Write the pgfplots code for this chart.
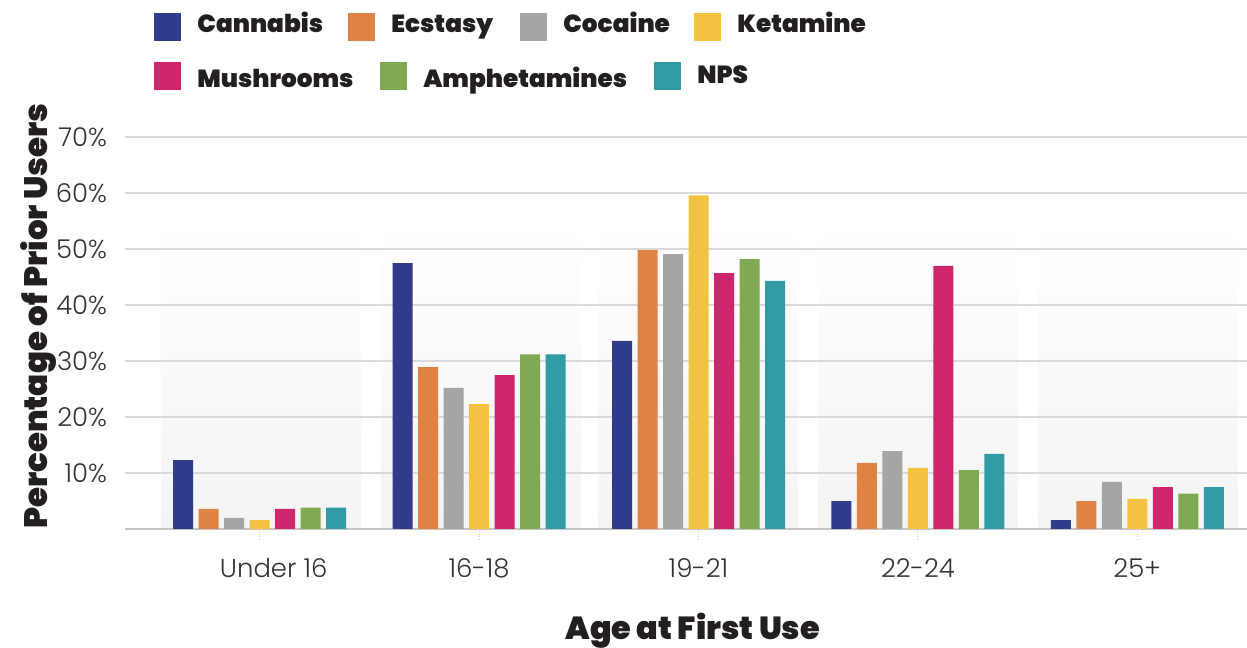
\documentclass[border=0pt]{standalone}
\usepackage{fontspec}
\setmainfont{Poppins}
\newfontfamily\lightfont{Poppins Light}
\newfontfamily\blackfont{Poppins Black}
\usepackage{pgfplots}
\pgfplotsset{compat=1.18}
\definecolor{cCannabis}{HTML}{2F3C8C}
\definecolor{cEcstasy}{HTML}{DF8243}
\definecolor{cCocaine}{HTML}{A5A5A5}
\definecolor{cKetamine}{HTML}{F4C242}
\definecolor{cMush}{HTML}{CE266D}
\definecolor{cAmph}{HTML}{7FAA53}
\definecolor{cNPS}{HTML}{339BA5}
\definecolor{legtext}{HTML}{231F20}
\definecolor{ticktext}{HTML}{333333}
\definecolor{gridc}{HTML}{DADADA}
\definecolor{bandc}{HTML}{F4F4F4}
% #1 square left px, #2 square top px, #3 text baseline px, #4 colour, #5 text
\newcommand{\legitem}[5]{%
  \fill[#4] ({#1*0.5bp},{(648-#2)*0.5bp}) rectangle ++(13.5bp,-14bp);
  \node[anchor=base west, inner sep=0pt, font=\blackfont\fontsize{12.4}{14}\selectfont, text=legtext]
    at ({(#1+43)*0.5bp},{(648-#3)*0.5bp}) {#5};}
\newcommand{\band}[1]{%
  \fill[top color=white, bottom color=bandc] ({#1*0.5bp},59.5bp) rectangle ({(#1+200)*0.5bp},214bp);}
\begin{document}
\begin{tikzpicture}
\path[use as bounding box] (0,0) rectangle (623.5bp,324bp);
\band{161}\band{381}\band{598}\band{818}\band{1038}
\begin{axis}[
  at={(62.5bp,59.5bp)}, anchor=south west,
  scale only axis, width=561bp, height=196bp,
  xmin=-0.614, xmax=4.5, ymin=0, ymax=70,
  enlargelimits=false,
  ybar=2.75bp, bar width=10bp,
  xtick={0,1,2,3,4},
  xticklabels={\hspace*{14bp}Under 16,16-18,19-21,22-24,25+},
  ytick={10,20,30,40,50,60,70},
  yticklabel={\pgfmathprintnumber{\tick}\%},
  /pgf/number format/assume math mode=true,
  ymajorgrids,
  grid style={draw=gridc, line width=0.7bp},
  axis x line*=bottom, axis y line*=left,
  y axis line style={draw=none},
  x axis line style={draw=gridc!90!black, line width=1.4bp},
  ytick style={draw=none},
  xtick style={draw=gray!45, densely dotted, line width=0.5bp},
  tick align=outside, major tick length=5bp,
  ticklabel style={font=\lightfont\fontsize{13}{15}\selectfont, text=ticktext},
  xticklabel style={anchor=base, yshift=-19bp},
  yticklabel style={xshift=-0.5bp},
  xlabel={Age at First Use},
  ylabel={Percentage of Prior Users},
  xlabel style={font=\blackfont\fontsize{16}{18}\selectfont, text=legtext,
    at={(axis description cs:0.506,0)}, anchor=base, yshift=-55bp},
  ylabel style={font=\blackfont\fontsize{16.3}{18}\selectfont, text=legtext,
    at={(axis description cs:0,0.543)}, anchor=center, yshift=43bp},
]
\addplot[draw=none, fill=cCannabis] coordinates {(0,12.3) (1,47.5) (2,33.6) (3,5.0) (4,1.6)};
\addplot[draw=none, fill=cEcstasy]  coordinates {(0,3.6) (1,28.9) (2,49.8) (3,11.8) (4,5.0)};
\addplot[draw=none, fill=cCocaine]  coordinates {(0,2.0) (1,25.2) (2,49.1) (3,13.9) (4,8.4)};
\addplot[draw=none, fill=cKetamine] coordinates {(0,1.6) (1,22.3) (2,59.6) (3,10.9) (4,5.4)};
\addplot[draw=none, fill=cMush]     coordinates {(0,3.6) (1,27.5) (2,45.7) (3,47.0) (4,7.5)};
\addplot[draw=none, fill=cAmph]     coordinates {(0,3.8) (1,31.2) (2,48.2) (3,10.5) (4,6.3)};
\addplot[draw=none, fill=cNPS]      coordinates {(0,3.8) (1,31.2) (2,44.3) (3,13.4) (4,7.5)};
\end{axis}
\legitem{154}{13}{32}{cCannabis}{Cannabis}
\legitem{348}{13}{32}{cEcstasy}{Ecstasy}
\legitem{520}{13}{32}{cCocaine}{Cocaine}
\legitem{694}{13}{32}{cKetamine}{Ketamine}
\legitem{154}{62}{87}{cMush}{Mushrooms}
\legitem{380}{62}{87}{cAmph}{Amphetamines}
\legitem{654}{62}{83}{cNPS}{NPS}
\end{tikzpicture}
\end{document}
